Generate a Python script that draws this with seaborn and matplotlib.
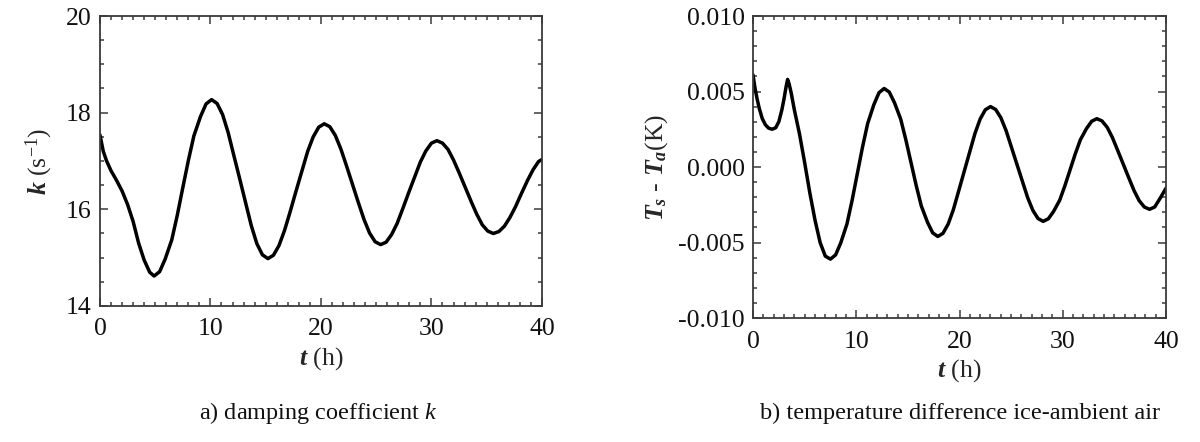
import matplotlib
matplotlib.use("Agg")
import matplotlib.pyplot as plt
from matplotlib.ticker import MultipleLocator
import seaborn as sns

# damping coefficient k (s^-1) vs t (h)
t_k = [0, 0.3, 0.6, 1.0, 1.5, 2.0, 2.5, 3.0, 3.5, 4.0, 4.5, 4.9,
       5.4, 5.9, 6.5, 7.0, 7.5, 8.0, 8.5, 9.1, 9.6, 10.1,
       10.6, 11.1, 11.6, 12.1, 12.65, 13.2, 13.7, 14.2, 14.7, 15.2,
       15.7, 16.2, 16.7, 17.2, 17.75, 18.3, 18.8, 19.3, 19.8, 20.3,
       20.8, 21.3, 21.8, 22.3, 22.85, 23.4, 23.9, 24.4, 24.9, 25.4,
       25.9, 26.4, 26.9, 27.4, 27.95, 28.5, 29.0, 29.5, 30.0, 30.5,
       31.0, 31.5, 32.0, 32.5, 33.05, 33.6, 34.1, 34.6, 35.1, 35.6,
       36.1, 36.6, 37.1, 37.6, 38.15, 38.7, 39.2, 39.7, 40.0]
k_vals = [17.54, 17.2, 17.0, 16.8, 16.6, 16.38, 16.1, 15.75, 15.3, 14.95, 14.7, 14.62,
          14.71, 14.97, 15.37, 15.88, 16.45, 17.01, 17.52, 17.92, 18.18, 18.27,
          18.19, 17.96, 17.59, 17.13, 16.63, 16.12, 15.66, 15.29, 15.06, 14.98,
          15.05, 15.25, 15.56, 15.94, 16.38, 16.81, 17.20, 17.50, 17.70, 17.77,
          17.71, 17.53, 17.25, 16.91, 16.52, 16.13, 15.79, 15.51, 15.33, 15.27,
          15.32, 15.48, 15.71, 16.01, 16.35, 16.68, 16.98, 17.21, 17.37, 17.42,
          17.37, 17.24, 17.02, 16.76, 16.46, 16.16, 15.90, 15.68, 15.55, 15.50,
          15.54, 15.65, 15.83, 16.05, 16.33, 16.60, 16.82, 16.99, 17.03]

# temperature difference Ts - Ta (K) vs t (h)
t_dT = [0, 0.2, 0.4, 0.6, 0.9, 1.2, 1.5, 1.85,
        2.2, 2.5, 2.8, 3.0, 3.2, 3.35,
        3.5, 3.7, 4.0, 4.5, 5.0, 5.5, 6.0, 6.5, 7.0, 7.5,
        8.0, 8.5, 9.1, 9.6, 10.1, 10.6, 11.1, 11.7, 12.2, 12.7,
        13.2, 13.7, 14.3, 14.8, 15.3, 15.8, 16.3, 16.9, 17.4, 17.9,
        18.4, 18.9, 19.4, 19.9, 20.45, 21.0, 21.5, 22.0, 22.5, 23.0,
        23.5, 24.0, 24.5, 25.0, 25.55, 26.1, 26.6, 27.1, 27.6, 28.1,
        28.6, 29.1, 29.7, 30.2, 30.7, 31.2, 31.7, 32.3, 32.8, 33.3,
        33.8, 34.3, 34.8, 35.3, 35.85, 36.4, 36.9, 37.4, 37.9, 38.4,
        38.9, 39.4, 40.0]
dT_vals = [0.0061, 0.0052, 0.0045, 0.0039, 0.0032, 0.0028, 0.00258, 0.0025,
           0.0026, 0.0030, 0.0038, 0.0045, 0.0053, 0.0058,
           0.0055, 0.0049, 0.0038, 0.0022, 0.0003, -0.0017, -0.0035, -0.0050, -0.0059, -0.0061,
           -0.00582, -0.00502, -0.00377, -0.00220, -0.00045, 0.00130, 0.00287, 0.00412, 0.00492, 0.0052,
           0.00496, 0.00426, 0.00318, 0.00181, 0.0003, -0.00121, -0.00258, -0.00366, -0.00436, -0.0046,
           -0.00439, -0.00378, -0.00283, -0.00163, -0.0003, 0.00103, 0.00223, 0.00318, 0.00379, 0.0040,
           0.00381, 0.00327, 0.00243, 0.00137, 0.0002, -0.00097, -0.00203, -0.00287, -0.00341, -0.0036,
           -0.00343, -0.00295, -0.0022, -0.00125, -0.0002, 0.00085, 0.0018, 0.00255, 0.00303, 0.0032,
           0.00305, 0.00263, 0.00196, 0.00113, 0.0002, -0.00073, -0.00156, -0.00223, -0.00265, -0.0028,
           -0.00265, -0.0021, -0.0014]

k_ticks = [14, 16, 18, 20]
dT_ticks = [-0.010, -0.005, 0.000, 0.005, 0.010]
dT_ticklabels = ["-0.010", "-0.005", "0.000", "0.005", "0.010"]
t_ticks = [0, 10, 20, 30, 40]

sns.set_theme(style="ticks")
plt.rcParams['font.family'] = ['Liberation Serif', 'DejaVu Serif']
plt.rcParams['mathtext.fontset'] = 'custom'
plt.rcParams['mathtext.rm'] = 'Liberation Serif'
plt.rcParams['mathtext.it'] = 'Liberation Serif:italic'
plt.rcParams['mathtext.bf'] = 'Liberation Serif:bold'
plt.rcParams['mathtext.bfit'] = 'Liberation Serif:italic:bold'

fig = plt.figure(figsize=(12, 4.42), dpi=100)
ax1 = fig.add_axes([0.0833, 0.3077, 0.3683, 0.6561])
ax2 = fig.add_axes([0.6275, 0.2805, 0.3442, 0.6833])

sns.lineplot(x=t_k, y=k_vals, ax=ax1, color="black", lw=2.5, sort=False)
sns.lineplot(x=t_dT, y=dT_vals, ax=ax2, color="black", lw=2.5, sort=False)

frame_col = "#3a3a3a"
for ax in (ax1, ax2):
    ax.set_xlim(0, 40)
    ax.set_xticks(t_ticks)
    ax.xaxis.set_minor_locator(MultipleLocator(1))
    ax.tick_params(which="both", direction="in", top=True, right=True,
                   color=frame_col, width=1.1, labelsize=18.5, labelcolor="#111111")
    ax.tick_params(which="major", length=6)
    ax.tick_params(which="minor", length=3)
    ax.tick_params(axis="x", which="major", pad=9)
    ax.tick_params(axis="y", which="major", pad=6)
    for s in ax.spines.values():
        s.set_color(frame_col)
        s.set_linewidth(1.3)

ax1.set_ylim(14, 20)
ax1.set_yticks(k_ticks)
ax1.yaxis.set_minor_locator(MultipleLocator(0.5))
ax1.set_xlabel(r"$\mathbfit{t}$ (h)", fontsize=18.5, labelpad=3)
ax1.set_ylabel(r"$\mathbfit{k}$ (s$^{\mathrm{-1}}$)", fontsize=18.5, labelpad=8)

ax2.set_ylim(-0.010, 0.010)
ax2.set_yticks(dT_ticks)
ax2.set_yticklabels(dT_ticklabels)
ax2.yaxis.set_minor_locator(MultipleLocator(0.001))
ax2.set_xlabel(r"$\mathbfit{t}$ (h)", fontsize=18.5, labelpad=3)
ax2.set_ylabel(r"$\mathbfit{T}_{\mathbfit{s}}$ - $\mathbfit{T}_{\mathbfit{a}}$(K)", fontsize=18.5, labelpad=6)

fig.text(0.265, 1 - 413 / 442, r"a) damping coefficient $k$", ha="center", va="center",
         fontsize=17.5, color="#111111")
fig.text(0.80, 1 - 413 / 442, "b) temperature difference ice-ambient air", ha="center", va="center",
         fontsize=17.5, color="#111111")

plt.savefig("out.png", dpi=100)
plt.close()
